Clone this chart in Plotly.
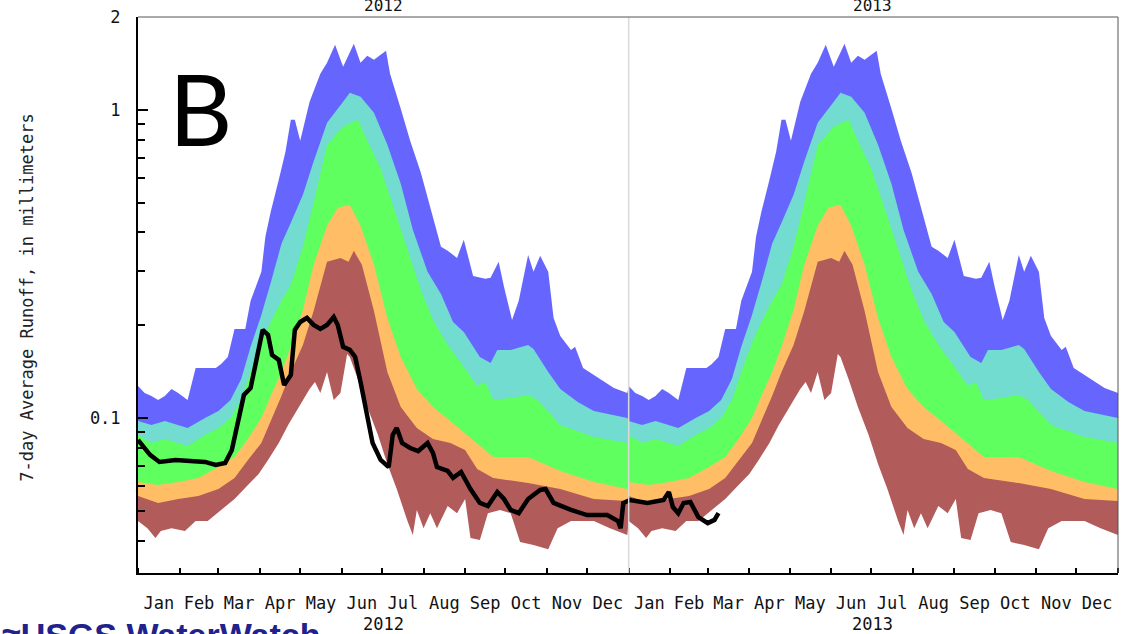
import pandas as pd
import plotly.graph_objects as go

# ---- percentile band boundaries (day-of-year, value in mm) ----
max_days = [0,5,10,15,20,25,30,37,43,50,58,62,67,72,80,84,92,95,99,105,110,114,117,121,128,136,141,147,153,161,
            166,171,176,185,188,196,203,211,220,226,231,238,243,250,259,263,269,273,279,284,291,295,300,306,310,315,323,326,332,345,355,365]
max_vals = [0.127,0.1205,0.1179,0.1144,0.1179,0.1242,0.1205,0.1144,0.1453,0.1453,0.1453,0.1497,0.1578,0.1945,0.1945,0.2399,0.2979,0.387,0.4665,0.5925,
            0.7305,0.9281,0.9281,0.7932,1.0617,1.309,1.421,1.626,1.379,1.638,1.421,1.497,1.453,1.554,1.309,1.0075,0.7932,0.6245,0.4527,0.3591,
            0.3485,0.3307,0.3784,0.2891,0.2828,0.285,0.321,0.2663,0.208,0.2399,0.3382,0.2979,0.3357,0.2979,0.2111,0.1846,0.1663,0.1701,0.1453,0.1339,0.1251,0.1205]

p90_days = [0,10,20,30,37,50,60,69,77,84,92,99,107,114,123,131,141,153,158,166,176,186,196,205,216,226,235,243,255,263,268,278,291,295,306,315,328,340,352,365]
p90_vals = [0.0978,0.0949,0.0978,0.0949,0.0928,0.1,0.1054,0.1144,0.1339,0.1701,0.216,0.2744,0.3672,0.43,0.53,0.68,0.9075,1.0617,1.1354,1.102,
            0.9779,0.7699,0.5751,0.4077,0.2979,0.2527,0.2049,0.1902,0.1578,0.1509,0.1663,0.1663,0.1726,0.1675,0.1411,0.1242,0.1127,0.1054,0.103,0.1]

p75_days = [0,10,20,30,37,50,60,69,77,84,92,99,107,114,123,131,141,153,164,171,181,190,201,211,220,231,241,253,259,265,278,291,298,315,340,365]
p75_vals = [0.0881,0.0829,0.0855,0.0829,0.0811,0.0881,0.0928,0.1,0.1144,0.1411,0.1751,0.2049,0.2399,0.27,0.36,0.5,0.7699,0.8808,0.9281,0.7932,
            0.6433,0.4916,0.3512,0.2603,0.208,0.1726,0.1509,0.127,0.1309,0.1144,0.1161,0.1188,0.1144,0.0949,0.0868,0.0829]

p25_days = [0,15,30,45,60,72,82,92,99,107,114,123,131,141,149,158,166,176,186,196,208,220,233,241,253,265,291,315,340,365]
p25_vals = [0.062,0.0606,0.062,0.0639,0.0693,0.0747,0.0855,0.1,0.1179,0.1411,0.1701,0.2241,0.3141,0.4202,0.4806,0.4916,0.4202,0.3141,0.2111,0.1578,
            0.1242,0.1086,0.0978,0.0914,0.0829,0.0747,0.0747,0.0673,0.062,0.0588]

p10_days = [0,15,30,45,60,72,82,92,99,107,114,123,131,141,151,157,161,167,176,186,196,208,220,233,244,253,265,291,315,340,365]
p10_vals = [0.0558,0.053,0.0546,0.0558,0.0588,0.0639,0.0731,0.0829,0.0978,0.1179,0.1411,0.1726,0.2225,0.321,0.3307,0.321,0.3485,0.3141,0.2225,0.1411,
            0.1086,0.0928,0.0855,0.0829,0.0787,0.0683,0.0639,0.0615,0.0588,0.0546,0.0538]

min_days = [0,7,13,17,25,35,43,52,62,72,82,90,97,105,112,121,128,132,136,141,146,151,156,158,164,171,179,186,193,201,
            205,208,213,218,223,231,238,244,248,255,261,270,278,285,295,306,313,323,340,352,365]
min_vals = [0.0463,0.0439,0.0408,0.043,0.0439,0.043,0.0463,0.0463,0.0503,0.0546,0.0606,0.0658,0.0731,0.0829,0.0949,0.111,0.1242,0.1309,0.1205,0.1411,
            0.1144,0.1205,0.1613,0.1578,0.1339,0.1086,0.0881,0.0709,0.0588,0.0463,0.0417,0.0503,0.0439,0.0491,0.0439,0.0518,0.0491,0.0546,0.0408,0.0402,
            0.0491,0.0503,0.0491,0.0396,0.0387,0.0375,0.0439,0.0463,0.0463,0.0439,0.0417]

# ---- observed 7-day average runoff ----
obs2012_days = [0,9,16,28,39,50,58,65,70,75,79,84,88,93,97,100,105,109,114,117,121,126,131,136,141,146,149,153,158,162,166,170,175,181,187,190,193,197,
                203,209,216,220,223,231,235,241,248,255,261,268,273,278,284,291,300,304,310,323,335,350,358,360,362]
obs2012_vals = [0.0848,0.0759,0.072,0.0731,0.0725,0.072,0.0704,0.0714,0.0787,0.0985,0.1188,0.1251,0.1543,0.1931,0.186,0.1601,0.1543,0.128,0.1379,0.1931,
                0.2049,0.2111,0.2004,0.1945,0.2004,0.2127,0.2004,0.1701,0.1663,0.1578,0.1309,0.1054,0.0829,0.0731,0.0693,0.0881,0.0928,0.0829,0.0799,0.0781,
                0.0829,0.077,0.0693,0.0673,0.0639,0.0668,0.0588,0.053,0.0518,0.0575,0.0546,0.0503,0.0491,0.0546,0.0584,0.0588,0.053,0.0503,0.0484,0.0484,
                0.0463,0.0439,0.053]
obs2013_days = [1,14,26,30,33,37,41,46,52,59,64,67]
obs2013_vals = [0.0542,0.053,0.0542,0.0575,0.0514,0.0491,0.053,0.0534,0.0477,0.0456,0.0467,0.0491]

years = [2012, 2013]
y_tickvals = [0.1, 1, 2]
y_ticktext = ["0.1", "1", "2"]
y_minor = [0.04, 0.05, 0.06, 0.07, 0.08, 0.09, 0.2, 0.3, 0.4, 0.5, 0.6, 0.7, 0.8, 0.9]

colors = {"max": "#6666FF", "p90": "#72DCD0", "p75": "#5EFF5E",
          "p25": "#FFBE66", "p10": "#B25B5B", "min": "#FFFFFF"}


def to_dates(year, days):
    return list(pd.Timestamp(f"{year}-01-01") + pd.to_timedelta(days, unit="D"))


def two_years(days, vals):
    xs, ys = [], []
    for yr in years:
        xs += to_dates(yr, days)
        ys += list(vals)
    return xs, ys


fig = go.Figure()
floor = 0.02
for key, d, v in [("max", max_days, max_vals), ("p90", p90_days, p90_vals),
                  ("p75", p75_days, p75_vals), ("p25", p25_days, p25_vals),
                  ("p10", p10_days, p10_vals), ("min", min_days, min_vals)]:
    xs, ys = two_years(d, v)
    fig.add_trace(go.Scatter(
        x=xs + xs[::-1], y=ys + [floor] * len(ys), mode="lines",
        line=dict(width=0, color=colors[key]), fill="toself",
        fillcolor=colors[key], hoverinfo="skip", showlegend=False))

obs_x = to_dates(2012, obs2012_days) + to_dates(2013, obs2013_days)
obs_y = obs2012_vals + obs2013_vals
fig.add_trace(go.Scatter(x=obs_x, y=obs_y, mode="lines",
                         line=dict(color="black", width=4.5), showlegend=False))

mono = "DejaVu Sans Mono"
fig.update_layout(
    width=1121, height=634,
    margin=dict(l=138, r=3, t=17, b=61),
    paper_bgcolor="white", plot_bgcolor="white",
    showlegend=False,
)
fig.update_xaxes(
    type="date", range=["2012-01-01", "2014-01-01"],
    tick0="2012-01-01", dtick="M1", tickformat="%b", ticklabelmode="period",
    ticks="inside", ticklen=5, tickwidth=1.5, tickcolor="black",
    showline=True, linecolor="black", linewidth=2, showgrid=False, zeroline=False,
    tickfont=dict(family=mono, size=17, color="#111"), ticklabelstandoff=14,
)
fig.update_yaxes(
    type="log", range=[-1.503, 0.301],
    tickvals=y_tickvals, ticktext=y_ticktext,
    ticks="inside", ticklen=10, tickwidth=1.5, tickcolor="black",
    minor=dict(tickvals=y_minor, ticks="inside", ticklen=7, tickwidth=1.5, tickcolor="black"),
    showline=True, linecolor="black", linewidth=2, showgrid=False, zeroline=False,
    tickfont=dict(family=mono, size=17, color="#111"), ticklabelstandoff=12,
)

# year separator and frame
fig.add_shape(type="line", xref="x", yref="paper", x0="2013-01-01", x1="2013-01-01",
              y0=0, y1=1, line=dict(color="#DADADA", width=1.5), layer="above")
fig.add_shape(type="line", xref="paper", yref="paper", x0=0, x1=1, y0=1, y1=1,
              line=dict(color="#555", width=1), layer="above")
fig.add_shape(type="line", xref="paper", yref="paper", x0=1, x1=1, y0=0, y1=1,
              line=dict(color="#555", width=1), layer="above")

for yr in years:
    fig.add_annotation(x=f"{yr}-07-02", xref="x", y=1.0, yref="paper", yshift=1,
                       text=str(yr), showarrow=False, xanchor="center", yanchor="bottom",
                       borderpad=0, font=dict(family=mono, size=16, color="#111"))
    fig.add_annotation(x=f"{yr}-07-02", xref="x", y=-0.092, yref="paper",
                       text=str(yr), showarrow=False, xanchor="center", yanchor="middle",
                       font=dict(family=mono, size=17, color="#111"))

fig.add_annotation(x=-0.1133, xref="paper", y=0.495, yref="paper",
                   text="7-day Average Runoff, in millimeters", textangle=-90,
                   showarrow=False, xanchor="center", yanchor="middle",
                   font=dict(family=mono, size=17, color="#222"))

fig.add_annotation(x=0.0633, xref="paper", y=0.836, yref="paper", text="B",
                   showarrow=False, xanchor="center", yanchor="middle",
                   font=dict(family="Lato", size=98, color="black"))

fig.add_annotation(x=-0.1408, xref="paper", y=-0.0737, yref="paper",
                   text="<b>≈USGS WaterWatch</b>", showarrow=False,
                   xanchor="left", yanchor="top",
                   font=dict(family="Liberation Sans", size=34, color="#22228C"))

fig.write_html("out.html", config={"displayModeBar": False},
               post_script="document.body.style.margin='0px';document.body.style.overflow='hidden';")
